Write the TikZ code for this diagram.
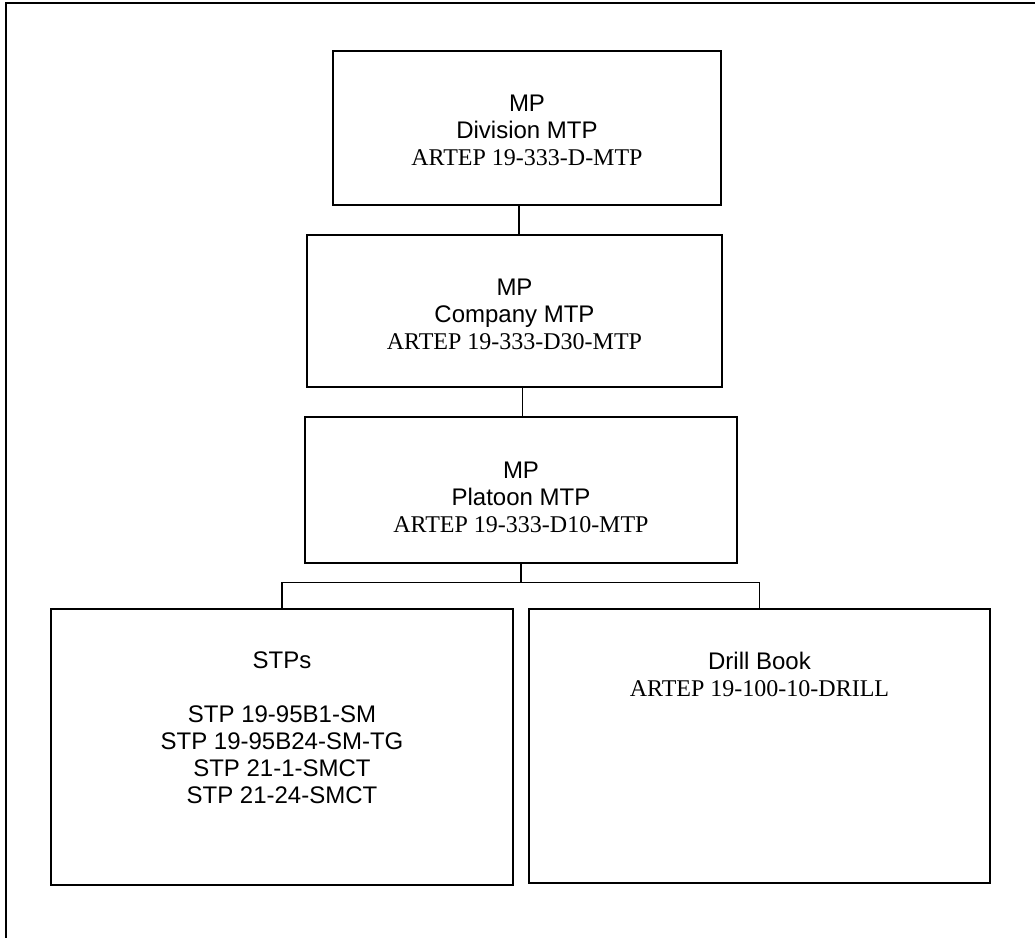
\documentclass[tikz,border=0pt]{standalone}
\usepackage{fontspec}
\setmainfont{Liberation Serif}
\setsansfont{Liberation Sans}
\usepackage{tikz}
\usetikzlibrary{positioning}

\begin{document}
\begin{tikzpicture}[
  x=0.75pt, y=0.75pt,
  font=\fontsize{18}{20.25}\selectfont\sffamily,
  box/.style={rectangle, draw=black, line width=1pt, inner sep=0pt},
  txt/.style={align=center, inner sep=0pt, anchor=north},
  link/.style={line width=0.9pt},
  frame/.style={line width=1.7pt}
]
\useasboundingbox (0,0) rectangle (1035,-938);
%% page frame
\draw[frame] (1045,-3) -- (6,-3) -- (6,-948);
%% boxes
\node[box, minimum width=291pt, minimum height=115.5pt] (m_div) at (527,-128) {};
\node[box, minimum width=311.25pt, minimum height=114pt] (m_com) at (514.5,-311) {};
\node[box, minimum width=324pt, minimum height=109.5pt] (m_plt) at (521,-490) {};
\node[box, minimum width=346.5pt, minimum height=207pt] (m_stp) at (282,-747) {};
\node[box, minimum width=345.75pt, minimum height=205.5pt] (m_drl) at (759.5,-746) {};
%% box texts
\node[txt, below=33pt of m_div.north] (t_div)
    {MP\\Division MTP\\{\rmfamily ARTEP 19-333-D-MTP}};
\node[txt, below=33.5pt of m_com.north] (t_com)
    {MP\\Company MTP\\{\rmfamily ARTEP 19-333-D30-MTP}};
\node[txt, below=34pt of m_plt.north] (t_plt)
    {MP\\Platoon MTP\\{\rmfamily ARTEP 19-333-D10-MTP}};
\node[txt, below=32.5pt of m_stp.north] (t_stp)
    {STPs\\[20.25pt]STP 19-95B1-SM\\STP 19-95B24-SM-TG\\STP 21-1-SMCT\\STP 21-24-SMCT};
\node[txt, below=32.5pt of m_drl.north] (t_drl)
    {Drill Book\\{\rmfamily ARTEP 19-100-10-DRILL}};
%% connectors
\coordinate (c_div) at ([xshift=-6pt]m_div.south);
\coordinate (c_com) at ([xshift=6pt]m_com.south);
\coordinate (j_plt) at ([yshift=-14.25pt]m_plt.south);
\draw[link] (c_div) -- (c_div |- m_com.north);
\draw[link] (c_com) -- (c_com |- m_plt.north);
\draw[link] (m_plt.south) -- (j_plt) -| (m_stp.north);
\draw[link] (j_plt) -| (m_drl.north);
\end{tikzpicture}
\end{document}
